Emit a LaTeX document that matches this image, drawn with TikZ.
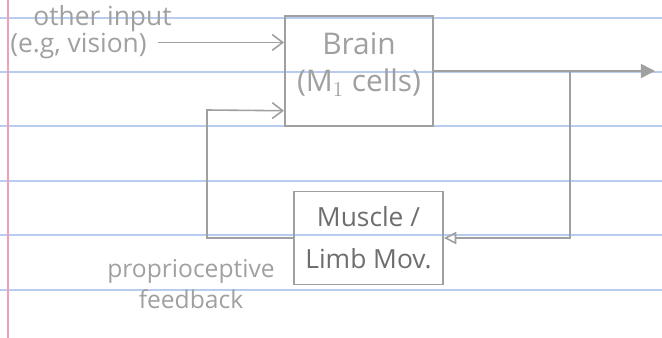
\documentclass[tikz,border=0pt]{standalone}
\usepackage{fontspec}
\setmainfont{Open Sans}
\usetikzlibrary{arrows.meta,calc}

\definecolor{pencil}{RGB}{160,160,160}
\definecolor{pencildark}{RGB}{110,110,110}
\definecolor{ruled}{RGB}{184,204,240}
\definecolor{margin}{RGB}{240,160,180}

\begin{document}
\begin{tikzpicture}[
        box/.style={rectangle, draw=pencil, line width=1.1pt, align=center, text=pencil},
        wire/.style={draw=pencil, line width=0.9pt},
        handtext/.style={text=pencil, align=center, font=\fontsize{14}{18}\selectfont}
    ]
        \useasboundingbox (0,0) rectangle (13.24,-6.76);

        % ruled paper
        \foreach \y in {0.36,1.44,2.52,3.62,4.70,5.80}
            \draw[ruled, line width=0.8pt] (0,-\y) -- (13.24,-\y);
        \draw[margin, line width=1pt] (0.16,0) -- (0.16,-6.76);

        \node[box, minimum width=2.96cm, minimum height=2.2cm, font=\fontsize{17}{21}\selectfont] (brain) at (7.18,-1.42) {Brain\\(M$_1$ cells)\\[-11pt]\mbox{}};

        \node[box, minimum width=2.98cm, minimum height=1.86cm, text=pencildark, font=\fontsize{15}{24}\selectfont] (muscle) at (7.37,-4.76) {Muscle /\\Limb Mov.};

        \node[handtext, align=left, anchor=west, inner sep=0pt, font=\fontsize{15}{14}\selectfont] (otherin) at (0.2,-0.64) {\hspace*{0.46cm}other input\\(e.g, vision)};
        \node[handtext] (propfb) at (3.82,-5.68) {proprioceptive\\feedback};

        \coordinate (in1) at ($(brain.north west)!0.245!(brain.south west)$);
        \coordinate (in2) at ($(brain.north west)!0.855!(brain.south west)$);
        \coordinate (split) at (11.4,-1.42);
        \coordinate (out) at (13.1,-1.42);
        \coordinate (fb) at (4.14,-2.2);

        % forward path
        \draw[wire, -{Straight Barb[length=6pt,width=9pt]}] ([xshift=-8pt]otherin.east |- in1) -- (in1);
        \draw[wire, -{Triangle[length=8pt,width=8pt,fill=pencil]}] (brain.east) -- (out);
        \draw[wire, -{Triangle[open,length=7pt,width=7pt]}] (split) |- (muscle.east);

        % feedback loop
        \draw[wire, -{Straight Barb[length=6pt,width=9pt]}] (muscle.west) -| (fb) -- (in2);
    \end{tikzpicture}
\end{document}
